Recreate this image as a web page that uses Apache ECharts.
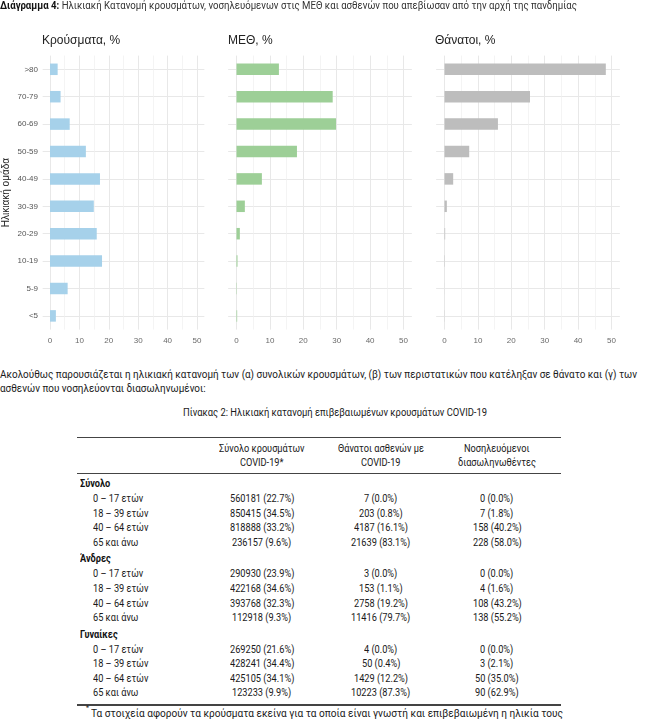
<!DOCTYPE html>
<html>
<head>
<meta charset="utf-8">
<script src="https://cdn.jsdelivr.net/npm/echarts@6/dist/echarts.min.js"></script>
<style>
  html, body { margin: 0; padding: 0; background: #fff; }
  body { width: 658px; height: 719px; position: relative; overflow: hidden; font-family: Roboto, "Noto Sans", sans-serif; color: #1a1a1a; }
  #chart { position: absolute; left: 0; top: 0; width: 658px; height: 352px; }
  .t { position: absolute; white-space: nowrap; display: inline-block; transform-origin: 0 50%; }
  .rule { position: absolute; background: #444; }
</style>
</head>
<body>
<div id="chart"></div>
<div id="doc"></div>
<script>
// ---------------- data ----------------
const categories = ['<5', '5-9', '10-19', '20-29', '30-39', '40-49', '50-59', '60-69', '70-79', '>80'];
const casesPct  = [2.0, 6.0, 17.7, 15.9, 14.9, 17.0, 12.2, 6.7, 3.6, 2.6];
const icuPct    = [0.2, 0.1, 0.3, 1.0, 2.5, 7.6, 18.1, 29.8, 28.8, 12.7];
const deathsPct = [0.05, 0.02, 0.1, 0.2, 0.7, 2.6, 7.4, 16.0, 25.6, 48.3];
const panelTitles = ['Κρούσματα, %', 'ΜΕΘ, %', 'Θάνατοι, %'];
const yAxisTitle = 'Ηλικιακή ομάδα';

const figTitleBold = 'Διάγραμμα 4:';
const figTitleRest = ' Ηλικιακή Κατανομή κρουσμάτων, νοσηλευόμενων στις ΜΕΘ και ασθενών που απεβίωσαν από την αρχή της πανδημίας';
const paraLine1 = 'Ακολούθως παρουσιάζεται η ηλικιακή κατανομή των (α) συνολικών κρουσμάτων, (β) των περιστατικών που κατέληξαν σε θάνατο και (γ) των';
const paraLine2 = 'ασθενών που νοσηλεύονται διασωληνωμένοι:';
const tableTitle = 'Πίνακας 2: Ηλικιακή κατανομή επιβεβαιωμένων κρουσμάτων COVID-19';
const colHeads = [['Σύνολο κρουσμάτων', 'COVID-19*'], ['Θάνατοι ασθενών με', 'COVID-19'], ['Νοσηλευόμενοι', 'διασωληνωθέντες']];
const groups = ['Σύνολο', 'Άνδρες', 'Γυναίκες'];
const ageBands = ['0 – 17 ετών', '18 – 39 ετών', '40 – 64 ετών', '65 και άνω'];

const totalCases  = [560181, 850415, 818888, 236157];
const totalCasesP = [22.7, 34.5, 33.2, 9.6];
const totalDeaths  = [7, 203, 4187, 21639];
const totalDeathsP = [0.0, 0.8, 16.1, 83.1];
const totalIntub  = [0, 7, 158, 228];
const totalIntubP = [0.0, 1.8, 40.2, 58.0];

const menCases  = [290930, 422168, 393768, 112918];
const menCasesP = [23.9, 34.6, 32.3, 9.3];
const menDeaths  = [3, 153, 2758, 11416];
const menDeathsP = [0.0, 1.1, 19.2, 79.7];
const menIntub  = [0, 4, 108, 138];
const menIntubP = [0.0, 1.6, 43.2, 55.2];

const womenCases  = [269250, 428241, 425105, 123233];
const womenCasesP = [21.6, 34.4, 34.1, 9.9];
const womenDeaths  = [4, 50, 1429, 10223];
const womenDeathsP = [0.0, 0.4, 12.2, 87.3];
const womenIntub  = [0, 3, 50, 90];
const womenIntubP = [0.0, 2.1, 35.0, 62.9];

const footnote = 'Τα στοιχεία αφορούν τα κρούσματα εκείνα για τα οποία είναι γνωστή και επιβεβαιωμένη η ηλικία τους';

// ---------------- chart ----------------
const seriesData = [casesPct, icuPct, deathsPct];
const colors = ['#a6d1ea', '#9dcf97', '#bdbdbd'];
const panelX = [[50, 197], [236.5, 403.5], [444.5, 611.5]]; // pixel x of 0 and 50
const plotTop = 55.6, plotH = 274, band = plotH / categories.length;
const gridColor = '#e8e8e8';

const grids = [], xAxes = [], yAxes = [], series = [], titles = [];
panelX.forEach((px, i) => {
  const w = px[1] - px[0];
  grids.push({ left: px[0], top: plotTop, width: w, height: plotH, containLabel: false });
  grids.push({ left: px[0] - 0.05 * w, top: plotTop + band / 2, width: 1.1 * w, height: plotH - band, containLabel: false });
  xAxes.push({
    type: 'value', gridIndex: 2 * i, min: 0, max: 50, interval: 10,
    axisLine: { show: false }, axisTick: { show: false },
    axisLabel: { color: '#6a6a6a', fontSize: 8, margin: 7, fontFamily: 'Liberation Sans' },
    splitLine: { show: true, lineStyle: { color: gridColor, width: 1 } },
    minorTick: { show: false, splitNumber: 2 },
    minorSplitLine: { show: true, lineStyle: { color: '#efefef', width: 0.7 } }
  });
  xAxes.push({ type: 'value', gridIndex: 2 * i + 1, min: 0, max: 1, show: false });
  yAxes.push({
    type: 'category', gridIndex: 2 * i, data: categories,
    axisLine: { show: false }, axisTick: { show: false }, splitLine: { show: false },
    axisLabel: { show: i === 0, color: '#555', fontSize: 8, margin: 12, fontFamily: 'Liberation Sans' },
    name: i === 0 ? yAxisTitle : '', nameLocation: 'middle', nameRotate: 90, nameGap: 39,
    nameTextStyle: { fontSize: 10, color: '#222', fontFamily: 'Liberation Sans' }
  });
  yAxes.push({
    type: 'category', gridIndex: 2 * i + 1, data: categories, boundaryGap: false,
    axisLine: { show: false }, axisTick: { show: false }, axisLabel: { show: false },
    splitLine: { show: true, lineStyle: { color: gridColor, width: 1 } }
  });
  series.push({
    type: 'bar', xAxisIndex: 2 * i, yAxisIndex: 2 * i, data: seriesData[i],
    barWidth: 11.5, itemStyle: { color: colors[i] }, silent: true, z: 3
  });
  titles.push({
    text: panelTitles[i], left: [42, 228, 435][i], top: 35, padding: 0,
    textStyle: { fontSize: 12, fontWeight: 'normal', color: '#222', fontFamily: 'Liberation Sans' }
  });
});

const chart = echarts.init(document.getElementById('chart'), null, { renderer: 'canvas' });
chart.setOption({
  animation: false,
  textStyle: { fontFamily: 'Liberation Sans' },
  title: titles, grid: grids, xAxis: xAxes, yAxis: yAxes, series: series
});

// ---------------- document text & table ----------------
const doc = document.getElementById('doc');
function addText(html, opts) {
  const el = document.createElement('div');
  el.className = 't';
  el.innerHTML = html;
  el.style.fontSize = (opts.size || 10) + 'px';
  el.style.lineHeight = '14px';
  if (opts.weight) el.style.fontWeight = opts.weight;
  if (opts.color) el.style.color = opts.color;
  doc.appendChild(el);
  const nat = el.getBoundingClientRect().width;
  let sx = opts.scale || 1;
  if (opts.fitWidth) sx = opts.fitWidth / nat;
  const w = nat * sx;
  let left = opts.x;
  if (opts.align === 'center') left = opts.x - w / 2;
  el.style.left = left + 'px';
  el.style.top = (opts.y - 7) + 'px';
  el.style.transform = 'scaleX(' + sx + ')';
  el.dataset.sx = sx;
  return el;
}
function addRule(x1, x2, y, h) {
  const r = document.createElement('div');
  r.className = 'rule';
  r.style.left = x1 + 'px'; r.style.width = (x2 - x1) + 'px';
  r.style.top = (y - h / 2) + 'px'; r.style.height = h + 'px';
  doc.appendChild(r);
}
const fmt = (n, p) => n + ' (' + p.toFixed(1) + '%)';

addText('<b style="color:#111">' + figTitleBold + '</b>' + figTitleRest, { x: 0, y: 6, size: 10, fitWidth: 577, color: '#333' });
const p1 = addText(paraLine1, { x: 0, y: 375, size: 10.5, fitWidth: 637 });
addText(paraLine2, { x: 0, y: 389, size: 10.5, scale: parseFloat(p1.dataset.sx) });
addText(tableTitle, { x: 335, y: 412, size: 11.5, align: 'center', fitWidth: 304 });

const tblL = 77, tblR = 561;
addRule(tblL, tblR, 437.5, 1.6);
addRule(tblL, tblR, 473.5, 1.3);
addRule(tblL, tblR, 705, 1.6);

const colX = [262, 381, 497];
const cellScale = 0.92;
colHeads.forEach((h, c) => {
  addText(h[0], { x: colX[c], y: 449, size: 10, align: 'center', scale: cellScale });
  addText(h[1], { x: colX[c], y: 463, size: 10, align: 'center', scale: cellScale });
});

const tableData = [
  [[totalCases, totalCasesP], [totalDeaths, totalDeathsP], [totalIntub, totalIntubP]],
  [[menCases, menCasesP], [menDeaths, menDeathsP], [menIntub, menIntubP]],
  [[womenCases, womenCasesP], [womenDeaths, womenDeathsP], [womenIntub, womenIntubP]]
];
groups.forEach((g, gi) => {
  const gy = 484 + gi * 75.3;
  addText(g, { x: 80, y: gy, size: 10, weight: 'bold', scale: cellScale, color: '#111' });
  ageBands.forEach((a, r) => {
    const ry = gy + 15 + r * 14.6;
    addText(a, { x: 93, y: ry, size: 10, scale: cellScale });
    tableData[gi].forEach((col, c) => {
      addText(fmt(col[0][r], col[1][r]), { x: colX[c], y: ry, size: 10, align: 'center', scale: cellScale });
    });
  });
});

addText('*', { x: 86, y: 708, size: 7 });
addText(footnote, { x: 91, y: 713.5, size: 10, fitWidth: 472 });
</script>
</body>
</html>
